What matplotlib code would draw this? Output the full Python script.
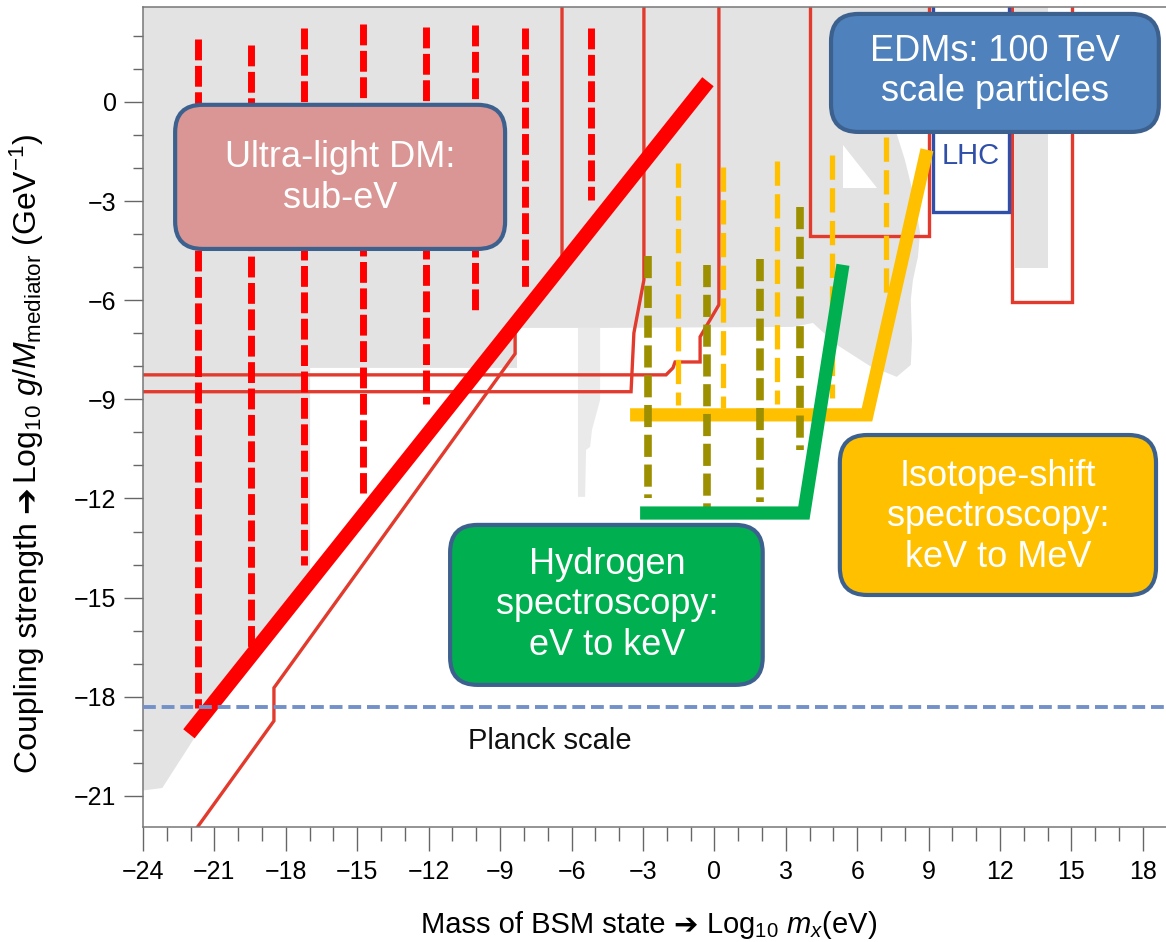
import matplotlib
matplotlib.use('Agg')
import matplotlib.pyplot as plt
from matplotlib.patches import FancyBboxPatch, Polygon

plt.rcParams['font.family'] = ['Liberation Sans', 'DejaVu Sans']
plt.rcParams['mathtext.fontset'] = 'custom'
plt.rcParams['mathtext.rm'] = 'Liberation Sans'
plt.rcParams['mathtext.it'] = 'Liberation Sans:italic'
plt.rcParams['mathtext.bf'] = 'Liberation Sans:bold'

# --- data (log10 mass in eV, log10 coupling in GeV^-1) ---
gray_x = [-24.5, 9.18, 9.18, 7.58, 8.00, 8.42, 8.64, 8.55, 8.34, 8.25, 8.30, 8.25,
          7.66, 6.53, 5.14, 4.14, 3.30, -4.80, -5.73,
          -8.29, -8.29, -16.98, -16.98, -21.89, -23.19, -24.5]
gray_y = [3.5, 3.5, -0.70, -0.79, -1.75, -2.97, -3.96, -4.69, -5.39, -5.99, -7.20, -7.96,
          -8.32, -7.99, -7.35, -6.69, -6.81, -6.84, -6.84,
          -6.84, -8.05, -8.05, -14.31, -19.30, -20.76, -20.88]
sliver_x = [-5.73, -4.80, -4.80, -5.14, -5.22, -5.39, -5.43, -5.73]
sliver_y = [-6.84, -6.84, -9.02, -9.92, -10.44, -10.53, -11.95, -11.95]
strip_x = [12.62, 14.01, 14.01, 12.62]
strip_y = [3.5, 3.5, -5.02, -5.02]
notch_x = [5.40, 5.40, 6.82]
notch_y = [-1.30, -2.60, -2.60]

# thin red exclusion curves
red_a_x = [-24.5, -2.03, -1.74, -1.65, -0.60, -0.60, 0.19, 0.19]
red_a_y = [-8.26, -8.26, -8.05, -7.87, -7.87, -7.11, -6.14, 3.5]
red_b_x = [-24.5, -3.50, -3.38, -2.96, -2.96]
red_b_y = [-8.77, -8.77, -6.99, -5.39, 3.5]
red_c_x = [-21.77, -18.50, -18.50, -8.37, -8.37, -6.40, -6.40]
red_c_y = [-22.0, -18.73, -17.73, -7.62, -6.99, -4.93, 3.5]
box1_x = [4.01, 4.01, 9.01, 9.01]
box1_y = [3.5, -4.05, -4.05, 3.5]
box2_x = [12.50, 12.50, 15.02, 15.02]
box2_y = [3.5, -6.05, -6.05, 3.5]
lhc_x = [9.18, 9.18, 12.37, 12.37]
lhc_y = [3.5, -3.33, -3.33, 3.5]

# ultra-light DM (red dashed)
uldm_x = [-21.69, -19.46, -17.24, -14.76, -12.12, -10.06, -7.96, -5.18]
uldm_top = [1.91, 1.72, 2.24, 2.36, 2.27, 2.33, 2.24, 2.24]
uldm_bot = [-18.34, -16.58, -14.00, -11.83, -9.14, -6.35, -5.60, -2.97]
uldm_reach_x = [-22.07, -0.27]
uldm_reach_y = [-19.12, 0.61]

# isotope shift (yellow dashed + solid)
iso_x = [-1.53, 0.36, 2.63, 4.94, 7.21]
iso_top = [-1.85, -1.97, -1.79, -1.60, -1.06]
iso_bot = [-9.17, -9.26, -9.14, -8.96, -6.00]
iso_reach_x = [-3.54, 6.41, 8.93]
iso_reach_y = [-9.47, -9.47, -1.45]

# hydrogen (olive dashed + green solid)
hyd_x = [-2.79, -0.31, 1.92, 3.60]
hyd_top = [-4.66, -4.93, -4.75, -3.18]
hyd_bot = [-11.98, -12.25, -12.10, -10.53]
hyd_reach_x = [-3.12, 3.76, 5.40]
hyd_reach_y = [-12.44, -12.44, -4.93]

planck_y = -18.31

fig = plt.figure(figsize=(11.66, 9.42), dpi=100)
ax = fig.add_axes([143 / 1166, 1 - 827 / 942, 1023 / 1166, 820 / 942])
ax.set_xlim(-24, 18.97)
ax.set_ylim(-21.94, 2.87)

gray = '#e3e3e3'
thin_red = '#e23a2c'
ax.add_patch(Polygon(list(zip(gray_x, gray_y)), closed=True, fc=gray, ec='none', zorder=1))
ax.add_patch(Polygon(list(zip(sliver_x, sliver_y)), closed=True, fc='#eaeaea', ec='none', zorder=1))
ax.add_patch(Polygon(list(zip(strip_x, strip_y)), closed=True, fc=gray, ec='none', zorder=1))
ax.add_patch(Polygon(list(zip(notch_x, notch_y)), closed=True, fc='white', ec='none', zorder=1.1))

for xs, ys in [(red_a_x, red_a_y), (red_b_x, red_b_y), (red_c_x, red_c_y),
               (box1_x, box1_y), (box2_x, box2_y)]:
    ax.plot(xs, ys, color=thin_red, lw=2.4, zorder=2, solid_joinstyle='miter')

ax.fill(lhc_x, lhc_y, fc='white', ec='#2f4fa8', lw=2.4, zorder=2)
ax.text(10.78, -1.63, 'LHC', color='#2f4fa8', fontsize=21, ha='center', va='center', zorder=3)

for x, t, b in zip(uldm_x, uldm_top, uldm_bot):
    ax.plot([x, x], [t, b], color='#ff0000', lw=5, ls=(0, (3.0, 0.8)), zorder=3)
for x, t, b in zip(iso_x, iso_top, iso_bot):
    ax.plot([x, x], [t, b], color='#ffc000', lw=3.8, ls=(0, (4.6, 1.6)), zorder=3)
ax.plot(iso_reach_x, iso_reach_y, color='#ffc000', lw=9.5, zorder=4,
        solid_capstyle='butt', solid_joinstyle='miter')
for x, t, b in zip(hyd_x, hyd_top, hyd_bot):
    ax.plot([x, x], [t, b], color='#9c8f00', lw=5.5, ls=(0, (2.9, 1.0)), zorder=5)
ax.plot(hyd_reach_x, hyd_reach_y, color='#00b050', lw=9.5, zorder=6,
        solid_capstyle='butt', solid_joinstyle='miter')
ax.plot(uldm_reach_x, uldm_reach_y, color='#ff0000', lw=10.5, zorder=6, solid_capstyle='butt')

ax.axhline(planck_y, color='#7391c9', lw=2.8, ls=(0, (3.3, 1.5)), zorder=7)
ax.text(-6.9, -19.33, 'Planck scale', fontsize=21, color='#111111', ha='center', va='center', zorder=7)

edge = '#3d618e'
boxes = [
    ((-22.65, -4.45), 13.86, 4.36, '#d99694', (-15.72, -2.30), 'Ultra-light DM:\nsub-eV'),
    ((4.90, -0.91), 13.77, 3.57, '#4f81bd', (11.79, 0.91), 'EDMs: 100 TeV\nscale particles'),
    ((-11.10, -17.64), 13.13, 4.84, '#00b050', (-4.49, -15.22), 'Hydrogen\nspectroscopy:\neV to keV'),
    ((5.27, -14.92), 13.28, 4.84, '#ffc000', (11.92, -12.56), 'Isotope-shift\nspectroscopy:\nkeV to MeV'),
]
for (x0, y0), w, h, fc, (tx, ty), label in boxes:
    ax.add_patch(FancyBboxPatch((x0, y0), w, h, boxstyle='round,pad=0,rounding_size=1.15',
                                mutation_aspect=23.81 / 33.05, fc=fc, ec=edge, lw=3,
                                zorder=10, clip_on=False))
    ax.text(tx, ty, label, color='white', fontsize=26, ha='center', va='center',
            linespacing=1.2, zorder=11)

ax.set_xticks(range(-24, 19, 3))
ax.set_xticks(range(-24, 19, 1), minor=True)
ax.set_yticks(range(-21, 1, 3))
ax.set_yticks(range(-21, 3, 1), minor=True)
ax.tick_params(axis='x', which='major', length=17, width=1, color='#666666', labelsize=18, pad=7)
ax.tick_params(axis='x', which='minor', length=10, width=1, color='#666666')
ax.tick_params(axis='y', which='major', length=14, width=1, color='#666666', labelsize=18, pad=5)
ax.tick_params(axis='y', which='minor', length=7, width=1, color='#666666')
for side in ['left', 'bottom', 'top']:
    ax.spines[side].set_color('#777777')
    ax.spines[side].set_linewidth(1.1)
ax.spines['right'].set_visible(False)


def arrow_label(center, baseline, before, after, size, gaps, vertical=False):
    # Liberation Sans has no heavy arrow, so the arrow is its own DejaVu text piece
    renderer = fig.canvas.get_renderer()
    pieces = [(before, 'Liberation Sans'), ('\u2794', 'DejaVu Sans'), (after, 'Liberation Sans')]
    texts = [fig.text(0, 0, s, fontsize=size, family=fam, ha='left', va='baseline',
                      rotation=90 if vertical else 0, rotation_mode='anchor',
                      transform=fig.dpi_scale_trans) for s, fam in pieces]
    lengths = []
    for t in texts:
        bb = t.get_window_extent(renderer)
        lengths.append(bb.height if vertical else bb.width)
    space = 0.278 * size * fig.dpi / 72
    total = sum(lengths) + space * sum(gaps)
    pos = center - total / 2
    steps = [space * gaps[0], space * gaps[1], 0]
    for t, length, step in zip(texts, lengths, steps):
        if vertical:
            t.set_position((baseline / fig.dpi, pos / fig.dpi))
        else:
            t.set_position((pos / fig.dpi, baseline / fig.dpi))
        pos += length + step


arrow_label(649, 942 - 933, 'Mass of BSM state', 'Log$_{10}$ $m_x$(eV)', 21, (1, 1))
arrow_label(942 - 453, 37, 'Coupling strength',
            'Log$_{10}$ $g/M_{\\mathrm{mediator}}$ (GeV$^{-1}$)', 23, (1, 0.2), vertical=True)

fig.savefig('out.png', dpi=100)
plt.close(fig)
